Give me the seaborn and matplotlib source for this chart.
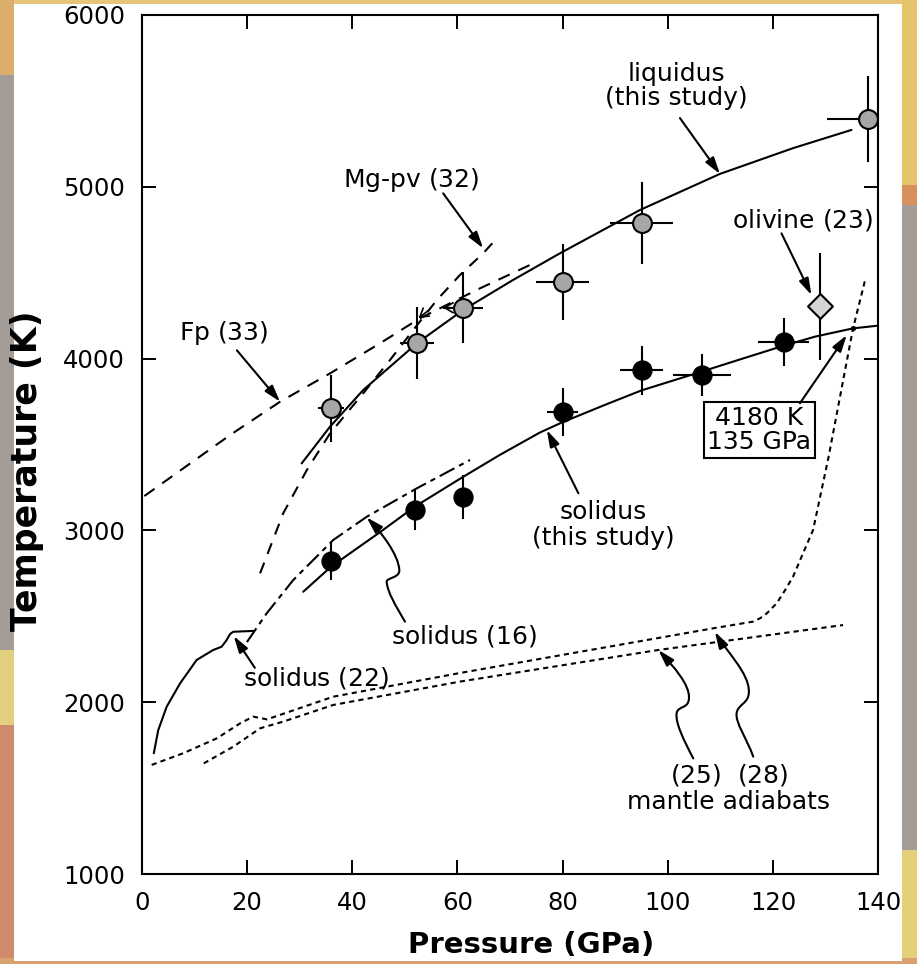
import matplotlib
matplotlib.use('Agg')
import matplotlib.pyplot as plt
import seaborn as sns
from matplotlib.patches import Rectangle, FancyArrowPatch
from matplotlib.path import Path

sns.set_style('ticks', {'axes.edgecolor': 'k', 'xtick.color': 'k', 'ytick.color': 'k',
                        'text.color': 'k', 'axes.labelcolor': 'k'})
plt.rcParams['font.family'] = ['DejaVu Sans']
plt.rcParams['mathtext.fontset'] = 'dejavusans'

# curves (pressure GPa, temperature K)
liq_p = [30.4, 35.8, 42.1, 52.3, 61.1, 70.6, 79.5, 94.7, 109.9, 123.8, 134.9]
liq_t = [3390, 3604, 3817, 4089, 4283, 4458, 4613, 4865, 5075, 5225, 5331]

sol_p = [30.7, 36, 45.3, 52, 61, 68.1, 75.7, 80, 88.4, 95, 106.5, 113.7, 122, 128,
         135.2, 140]
sol_t = [2643, 2789, 2990, 3140, 3310, 3440, 3570, 3630, 3735, 3815, 3925, 3995, 4075,
         4128, 4176, 4192]

fp_p = [0.5, 16.8, 26.3, 35.8, 45.3, 52.9, 64.3, 73.8]
fp_t = [3200, 3555, 3749, 3914, 4089, 4235, 4409, 4545]

mgpv_p = [22.5, 26.9, 31.4, 35.8, 42.1, 47.2, 51.6, 56.1, 60.5, 64.9, 67.8]
mgpv_t = [2750, 3100, 3352, 3565, 3798, 3992, 4166, 4341, 4487, 4613, 4710]

sol16_p = [20.0, 23.75, 28.8, 36.4, 42.8, 52.3, 62.4]
sol16_t = [2350, 2517, 2711, 2944, 3080, 3245, 3410]

sol22_p = [2.3, 3.15, 4.75, 7.3, 10.45, 13.6, 15.2, 16.15, 16.8, 17.4, 21.3]
sol22_t = [1703, 1838, 1974, 2110, 2246, 2304, 2323, 2362, 2397, 2410, 2415]

ad28_p = [1.9, 7.9, 14.3, 18.7, 21.2, 23.8, 36.4, 60.5, 108.6, 116.2, 117.5, 118.8,
          120.7, 122.3, 123.8, 125.7, 127.6, 130.5, 135.2, 137.5]
ad28_t = [1635, 1703, 1790, 1877, 1916, 1900, 2032, 2170, 2430, 2469, 2488, 2517,
          2576, 2653, 2731, 2867, 3002, 3420, 4176, 4458]

ad25_p = [11.8, 17.4, 22.5, 26.9, 36.4, 60.5, 98.2, 133.3]
ad25_t = [1644, 1741, 1848, 1887, 1984, 2120, 2304, 2449]

# measurements with error bars
liq_pts_p = [36, 52.3, 61.1, 80, 95, 138]
liq_pts_t = [3711, 4093, 4296, 4445, 4790, 5395]
liq_pts_perr = [2.5, 3.3, 3.8, 5, 6, 7.7]
liq_pts_terr = [195, 210, 208, 220, 240, 250]

sol_pts_p = [36, 52, 61, 80, 95, 106.5, 122]
sol_pts_t = [2822, 3120, 3195, 3687, 3932, 3905, 4098]
sol_pts_perr = [0, 0, 0, 3, 4, 5.5, 4.9]
sol_pts_terr = [110, 120, 130, 140, 142, 122, 141]

oliv_p = [128.9]
oliv_t = [4304]
oliv_terr = [310]

cross_p = [135.2]
cross_t = [4176]

W, H = 917, 964
fig = plt.figure(figsize=(W / 100, H / 100), dpi=100)
fig.patch.set_facecolor('#a49d97')


def band(x0, y0, x1, y1, color):
    fig.add_artist(Rectangle((x0 / W, 1 - y1 / H), (x1 - x0) / W, (y1 - y0) / H,
                             transform=fig.transFigure, facecolor=color,
                             edgecolor='none', zorder=-10))


# textured photo border, roughly
band(0, 0, W, 6, '#e6c57a')
band(0, 0, 14, 75, '#dcae6c')
band(0, 650, 14, 725, '#e2d080')
band(0, 725, 14, H, '#cf8a6c')
band(902, 0, W, 185, '#e6c46c')
band(902, 185, W, 205, '#d8915c')
band(902, 850, W, H, '#e6cf7a')
band(0, 958, W, H, '#d9a070')
band(14, 4, 902, 961, 'white')

ax = fig.add_axes([141.7 / W, 1 - 874 / H, (878.3 - 141.7) / W, (874 - 15) / H])
ax.set_facecolor('white')

lw = 1.5
line_kw = dict(ax=ax, color='k', lw=lw, sort=False, estimator=None, zorder=2)
sns.lineplot(x=liq_p, y=liq_t, **line_kw)
sns.lineplot(x=sol_p, y=sol_t, **line_kw)
sns.lineplot(x=sol22_p, y=sol22_t, **line_kw)
sns.lineplot(x=fp_p, y=fp_t, linestyle=(0, (6, 4.5)), **line_kw)
sns.lineplot(x=mgpv_p, y=mgpv_t, linestyle=(0, (5.5, 4.5)), **line_kw)
sns.lineplot(x=sol16_p, y=sol16_t, linestyle=(0, (8, 2.5, 2.5, 2.5)), **line_kw)
sns.lineplot(x=ad28_p, y=ad28_t, linestyle=(0, (2.5, 2)), **line_kw)
sns.lineplot(x=ad25_p, y=ad25_t, linestyle=(0, (2.5, 2)), **line_kw)

err_kw = dict(fmt='none', ecolor='k', elinewidth=1.5, capsize=0, zorder=3)
ax.errorbar(liq_pts_p, liq_pts_t, xerr=liq_pts_perr, yerr=liq_pts_terr, **err_kw)
ax.errorbar(sol_pts_p, sol_pts_t, xerr=sol_pts_perr, yerr=sol_pts_terr, **err_kw)
ax.errorbar(oliv_p, oliv_t, yerr=oliv_terr, **err_kw)

sns.scatterplot(x=liq_pts_p, y=liq_pts_t, ax=ax, s=185, color='#a6a6a6',
                edgecolor='k', linewidth=1.5, zorder=5)
sns.scatterplot(x=sol_pts_p, y=sol_pts_t, ax=ax, s=185, color='k',
                edgecolor='k', linewidth=1.0, zorder=5)
sns.scatterplot(x=oliv_p, y=oliv_t, ax=ax, s=160, marker='D', color='#d4d4d4',
                edgecolor='k', linewidth=1.5, zorder=5)
sns.scatterplot(x=cross_p, y=cross_t, ax=ax, s=12, color='k', edgecolor='k', zorder=6)

ax.set_xlim(0, 140)
ax.set_ylim(1000, 6000)
ax.set_xticks(range(0, 141, 20))
ax.set_yticks(range(1000, 6001, 1000))
ax.tick_params(direction='in', length=10, width=1.4, top=True, right=True,
               labelsize=17.5, pad=12)
for sp in ax.spines.values():
    sp.set_linewidth(1.5)
    sp.set_color('k')

ax.set_xlabel('Pressure (GPa)', fontsize=21, fontweight='bold', va='baseline')
ax.set_ylabel('Temperature (K)', fontsize=25, fontweight='bold')
ax.xaxis.set_label_coords(0.5285, -0.092)
ax.yaxis.set_label_coords(-0.1326, 0.470)

fs = 18
ax.text(51.2, 5040, r'Mg-pv ($\mathit{32}$)', fontsize=fs, ha='center', va='center')
ax.text(101.7, 5587, 'liquidus\n(this study)', fontsize=fs, ha='center', va='center',
        linespacing=1.0)
ax.text(125.7, 4807, r'olivine ($\mathit{23}$)', fontsize=fs, ha='center', va='center')
ax.text(15.5, 4147, r'Fp ($\mathit{33}$)', fontsize=fs, ha='center', va='center')
ax.text(117.4, 3584, '4180 K\n135 GPa', fontsize=fs, ha='center', va='center',
        linespacing=1.0,
        bbox=dict(boxstyle='square,pad=0.15', facecolor='white', edgecolor='k', lw=1.5))
ax.text(87.7, 3031, 'solidus\n(this study)', fontsize=fs, ha='center', va='center',
        linespacing=1.1)
ax.text(61.3, 2385, r'solidus ($\mathit{16}$)', fontsize=fs, ha='center', va='center')
ax.text(33.2, 2141, r'solidus ($\mathit{22}$)', fontsize=fs, ha='center', va='center')
ax.text(111.6, 1503, '($\\mathit{25}$)  ($\\mathit{28}$)\nmantle adiabats', fontsize=fs,
        ha='center', va='center', linespacing=1.1)

arrow = '-|>,head_length=0.5,head_width=0.15'
straight = [
    ((57.3, 4962), (64.9, 4642)),
    ((102.3, 5400), (109.9, 5075)),
    ((121.6, 4729), (127.3, 4370)),
    ((18.1, 4048), (26.3, 3749)),
    ((125.1, 3740), (134.0, 4137)),
    ((83.0, 3216), (77.0, 3584)),
    ((21.5, 2200), (17.5, 2385)),
]
for start, tip in straight:
    ax.annotate('', xy=tip, xytext=start,
                arrowprops=dict(arrowstyle=arrow, color='k', lw=1.5,
                                mutation_scale=20, shrinkA=0, shrinkB=0))

# small open arrowheads on two of the liquidus error bars
for start, tip in [((54.4, 4278), (52.6, 4235)), ((59.5, 4296), (57.3, 4296))]:
    ax.annotate('', xy=tip, xytext=start,
                arrowprops=dict(arrowstyle='->,head_length=0.5,head_width=0.3',
                                color='k', lw=1.2, mutation_scale=12,
                                shrinkA=0, shrinkB=0))

C = Path.CURVE4
curvy = [
    [(50.04, 2469), (48.3, 2560), (46.7, 2640), (46.56, 2701),
     (46.5, 2725), (49.1, 2722), (48.96, 2770),
     (48.8, 2860), (45.5, 2990), (42.76, 3076)],
    [(104.83, 1673), (103.0, 1780), (101.4, 1880), (101.67, 1936),
     (101.9, 1980), (103.9, 1960), (104.0, 2020),
     (104.3, 2100), (101.0, 2210), (98.2, 2304)],
    [(116.23, 1683), (115.0, 1790), (112.8, 1880), (113.07, 1936),
     (113.3, 1990), (115.4, 1990), (115.4, 2060),
     (115.5, 2170), (111.0, 2300), (108.95, 2410)],
]
for verts in curvy:
    codes = [Path.MOVETO] + [C] * (len(verts) - 1)
    ax.add_patch(FancyArrowPatch(path=Path(verts, codes), arrowstyle=arrow,
                                 mutation_scale=20, lw=1.5, color='k',
                                 shrinkA=0, shrinkB=0, zorder=4))

fig.savefig('out.png', dpi=100, facecolor=fig.get_facecolor())
